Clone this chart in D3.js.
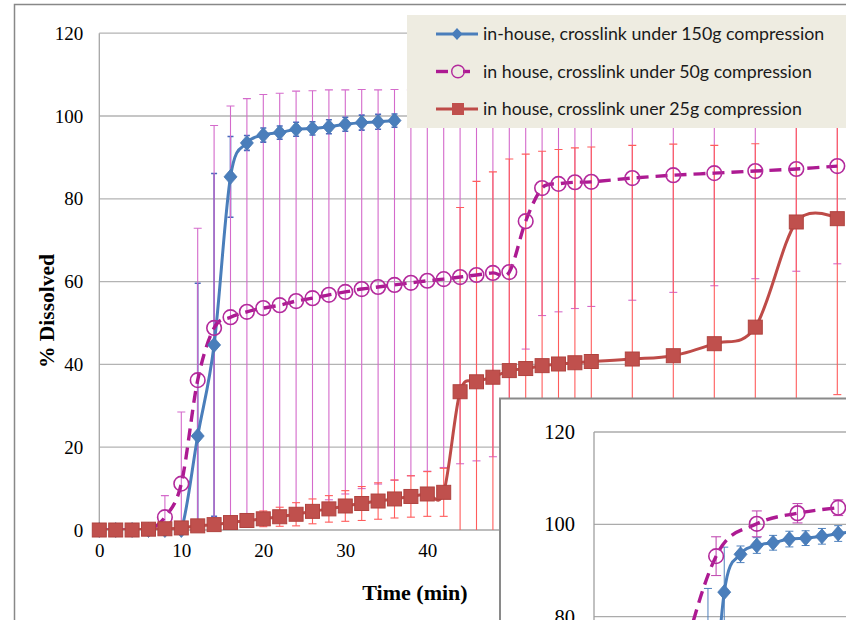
<!DOCTYPE html>
<html>
<head>
<meta charset="utf-8">
<script src="https://cdn.jsdelivr.net/npm/d3@7"></script>
<style>
  html, body { margin: 0; padding: 0; background: #fff; }
  svg { display: block; }
</style>
</head>
<body>
<svg id="chart" width="846" height="620"></svg>
<script>
// ---- data: % dissolved over time (min), mean and SD ----
const time = [0, 2, 4, 6, 8, 10, 12, 14, 16, 18, 20, 22, 24, 26, 28, 30, 32, 34, 36,
              38, 40, 42, 44, 46, 48, 50, 52, 54, 56, 58, 60, 65, 70, 75, 80, 85, 90];

// in-house, crosslink under 150g compression (sampled to 36 min)
const blueValues = [0, 0, 0, 0, 0, 0, 22.7, 44.7, 85.3, 93.5, 95.4, 96.0, 96.8, 97.0, 97.4, 98.0, 98.4, 98.6, 98.9];
const blueSD     = [0, 0, 0, 0, 0, 0, 36.9, 41.4, 9.75, 1.8, 1.7, 1.6, 1.7, 1.6, 1.7, 1.7, 1.8, 1.8, 1.6];

// in house, crosslink under 50g compression
const pinkValues = [0, 0, 0, 0, 3.1, 11.2, 36.2, 48.8, 51.4, 52.7, 53.6, 54.3, 55.3, 56.0, 56.8, 57.5, 58.2, 58.7, 59.2,
                    59.7, 60.2, 60.6, 61.1, 61.6, 62.1, 62.3, 74.6, 82.6, 83.6, 84.0, 84.1, 85.0, 85.7, 86.2, 86.7, 87.2, 87.9];
const pinkSD     = [0, 0, 0, 0, 5.2, 17.3, 36.7, 48.9, 51.0, 51.5, 51.6, 51.2, 50.7, 50.1, 49.5, 48.8, 48.2, 47.6, 47.2,
                    46.6, 46.0, 45.5, 45.1, 44.9, 44.4, 44.0, 30.9, 30.8, 30.9, 30.5, 30.1, 29.5, 28.3, 27.2, 26.0, 24.7, 23.6];

// in house, crosslink uner 25g compression
const redValues = [0, 0, 0, 0.2, 0.3, 0.5, 1.0, 1.3, 1.8, 2.3, 2.7, 3.2, 3.8, 4.5, 5.1, 5.8, 6.4, 7.0, 7.5,
                   8.1, 8.7, 9.1, 33.4, 35.8, 36.9, 38.5, 39.0, 39.7, 40.1, 40.4, 40.7, 41.3, 42.1, 45.0, 49.0, 74.4, 75.2];
const redSD     = [0, 0, 0, 0.2, 0.3, 0.5, 0.7, 1.0, 1.2, 1.5, 1.9, 2.3, 2.8, 3.0, 3.2, 3.7, 4.1, 4.4, 4.6,
                   5.0, 5.4, 5.8, 44.5, 48.4, 49.6, 51.1, 51.8, 51.8, 51.8, 51.9, 51.8, 51.6, 51.1, 47.9, 44.3, 44.0, 42.5];

// second panel: comparison series, 5-min sampling
const insetTime   = [0, 5, 10, 15, 20, 25, 30];
const insetValues = [0, 20, 64, 93.1, 100.1, 102.4, 103.6];
const insetSD     = [0, 3, 8, 4.2, 2.8, 2.1, 1.7];

const yTicks = [0, 20, 40, 60, 80, 100, 120];
const xTicks = [0, 10, 20, 30, 40, 50, 60, 70, 80, 90];
const insetYTicks = [80, 100, 120];

const legendLabels = [
  "in-house, crosslink under 150g compression",
  "in house, crosslink under 50g compression",
  "in house, crosslink uner 25g compression"
];

// ---- styles ----
const styles = {
  blue: { line: "#4a7ebb", width: 3, dash: null, err: "#4a68bd", errW: 1.6 },
  pink: { line: "#ad1a92", width: 3.4, dash: "12,7", err: "#d46acb", errW: 1.1 },
  red:  { line: "#be4b48", width: 3, dash: null, err: "#ff5c5c", errW: 1.1 }
};

const zip = (ts, vs, sds) => vs.map((v, i) => ({ t: ts[i], v: v, sd: sds[i] }));
const blueData = zip(time, blueValues, blueSD);
const pinkData = zip(time, pinkValues, pinkSD);
const redData  = zip(time, redValues, redSD);
const insetPinkData = zip(insetTime, insetValues, insetSD);

const svg = d3.select("#chart");
const serif = "'Liberation Serif', 'Times New Roman', serif";

function drawErrorBars(g, data, x, y, st, capW) {
  const eb = g.append("g").attr("stroke", st.err).attr("stroke-width", st.errW).attr("fill", "none");
  data.filter(d => d.sd > 0).forEach(d => {
    const cx = x(d.t);
    eb.append("line").attr("x1", cx).attr("x2", cx)
      .attr("y1", y(d.v + d.sd)).attr("y2", y(d.v - d.sd));
    [d.v + d.sd, d.v - d.sd].forEach(e => {
      eb.append("line").attr("x1", cx - capW).attr("x2", cx + capW)
        .attr("y1", y(e)).attr("y2", y(e));
    });
  });
}

function drawLine(g, data, x, y, st) {
  const line = d3.line().x(d => x(d.t)).y(d => y(d.v)).curve(d3.curveCardinal.tension(0));
  const p = g.append("path").datum(data).attr("d", line)
    .attr("fill", "none").attr("stroke", st.line).attr("stroke-width", st.width)
    .attr("stroke-linejoin", "round");
  if (st.dash) p.attr("stroke-dasharray", st.dash);
}

const diamondPath = "M0,-7.5L6.5,0L0,7.5L-6.5,0Z";

function drawDiamonds(g, data, x, y) {
  g.append("g").selectAll("path").data(data).join("path")
    .attr("d", diamondPath)
    .attr("transform", d => `translate(${x(d.t)},${y(d.v)})`)
    .attr("fill", "#4a7ebb").attr("stroke", "#4677b4").attr("stroke-width", 0.8);
}
function drawCircles(g, data, x, y) {
  g.append("g").selectAll("circle").data(data).join("circle")
    .attr("cx", d => x(d.t)).attr("cy", d => y(d.v)).attr("r", 7.3)
    .attr("fill", "none").attr("stroke", "#b32a9c").attr("stroke-width", 1.6);
}
function drawSquares(g, data, x, y) {
  g.append("g").selectAll("rect").data(data).join("rect")
    .attr("x", d => x(d.t) - 7).attr("y", d => y(d.v) - 7)
    .attr("width", 14).attr("height", 14)
    .attr("fill", "#c0504d").attr("stroke", "#b0433f").attr("stroke-width", 1);
}

// ---- chart frame ----
svg.append("rect").attr("x", 14.5).attr("y", 4.5).attr("width", 900).attr("height", 700)
  .attr("fill", "#fff").attr("stroke", "#888").attr("stroke-width", 1.5);

// ---- main plot ----
const x = d3.scaleLinear().domain([0, 100]).range([99.3, 919.3]);
const y = d3.scaleLinear().domain([0, 120]).range([530, 33.2]);

svg.append("defs").append("clipPath").attr("id", "mainClip")
  .append("rect").attr("x", x(0)).attr("y", y(120)).attr("width", x(100) - x(0)).attr("height", y(0) - y(120));

const grid = svg.append("g");
yTicks.forEach(v => {
  grid.append("line").attr("x1", x(0)).attr("x2", x(100)).attr("y1", y(v)).attr("y2", y(v))
    .attr("stroke", v === 0 ? "#a6a6a6" : "#b3b3b3").attr("stroke-width", 1.3);
});
grid.append("line").attr("x1", x(0)).attr("x2", x(0)).attr("y1", y(0)).attr("y2", y(120))
  .attr("stroke", "#a6a6a6").attr("stroke-width", 1.3);

// tick labels
const yAxis = svg.append("g").attr("transform", `translate(${x(0) - 16},0)`)
  .call(d3.axisLeft(y).tickValues(yTicks).tickSize(0).tickPadding(0));
yAxis.select(".domain").remove();
yAxis.selectAll("text").attr("font-family", serif).attr("font-size", 19).attr("fill", "#000");

const xAxis = svg.append("g").attr("transform", `translate(0,${y(0) + 13})`)
  .call(d3.axisBottom(x).tickValues(xTicks).tickSize(0).tickPadding(0).tickFormat(d3.format("d")));
xAxis.select(".domain").remove();
xAxis.selectAll("text").attr("font-family", serif).attr("font-size", 19).attr("fill", "#000");

// axis titles
svg.append("text").attr("x", 415).attr("y", 592).attr("dy", "0.35em")
  .attr("text-anchor", "middle").attr("font-family", serif).attr("font-weight", "bold")
  .attr("font-size", 22).text("Time (min)");
svg.append("text").attr("transform", "translate(46,311) rotate(-90)").attr("dy", "0.35em")
  .attr("text-anchor", "middle").attr("font-family", serif).attr("font-weight", "bold")
  .attr("font-size", 21.5).text("% Dissolved");

const clipped = svg.append("g").attr("clip-path", "url(#mainClip)");
drawErrorBars(clipped, blueData, x, y, styles.blue, 3);
drawErrorBars(clipped, pinkData, x, y, styles.pink, 4);
drawErrorBars(clipped, redData, x, y, styles.red, 4);
drawLine(clipped, blueData, x, y, styles.blue);
drawLine(clipped, pinkData, x, y, styles.pink);
drawLine(clipped, redData, x, y, styles.red);

const marks = svg.append("g");
drawDiamonds(marks, blueData, x, y);
drawCircles(marks, pinkData.filter(d => d.v > 0), x, y);
drawSquares(marks, redData, x, y);

// ---- legend ----
const legend = svg.append("g");
legend.append("rect").attr("x", 407).attr("y", 15).attr("width", 450).attr("height", 113)
  .attr("fill", "#eeece1");
const legY = [34, 71.5, 109];
const legKeys = ["blue", "pink", "red"];
legKeys.forEach((k, i) => {
  const st = styles[k];
  const gy = legY[i];
  if (k === "pink") {
    legend.append("line").attr("x1", 436).attr("x2", 448).attr("y1", gy).attr("y2", gy)
      .attr("stroke", st.line).attr("stroke-width", st.width);
    legend.append("line").attr("x1", 463).attr("x2", 470).attr("y1", gy).attr("y2", gy)
      .attr("stroke", st.line).attr("stroke-width", st.width);
    legend.append("circle").attr("cx", 458).attr("cy", gy).attr("r", 6.3)
      .attr("fill", "none").attr("stroke", "#b32a9c").attr("stroke-width", 1.4);
  } else {
    legend.append("line").attr("x1", 436).attr("x2", 478).attr("y1", gy).attr("y2", gy)
      .attr("stroke", st.line).attr("stroke-width", st.width);
    if (k === "blue") {
      legend.append("path").attr("d", "M0,-6L5.5,0L0,6L-5.5,0Z")
        .attr("transform", `translate(457,${gy})`).attr("fill", "#4a7ebb");
    } else {
      legend.append("rect").attr("x", 452).attr("y", gy - 6).attr("width", 12).attr("height", 12)
        .attr("fill", "#c0504d");
    }
  }
  legend.append("text").attr("x", 483).attr("y", gy).attr("dy", "0.35em")
    .attr("font-family", "Lato, 'Noto Sans', sans-serif").attr("font-size", 17.8)
    .attr("fill", "#1a1a1a").text(legendLabels[i]);
});

// ---- zoomed comparison panel (80–120 %) ----
const inset = svg.append("g");
inset.append("rect").attr("x", 500).attr("y", 398.5).attr("width", 420).attr("height", 300)
  .attr("fill", "#fff").attr("stroke", "#8a8a8a").attr("stroke-width", 2);

const xi = d3.scaleLinear().domain([0, 40]).range([594, 594 + 8.14 * 40]);
const yi = d3.scaleLinear().domain([60, 120]).range([432 + 60 * 4.615, 432]);

svg.select("defs").append("clipPath").attr("id", "insetClip")
  .append("rect").attr("x", xi(0)).attr("y", yi(120)).attr("width", 300).attr("height", 300);

insetYTicks.forEach(v => {
  inset.append("line").attr("x1", xi(0)).attr("x2", xi(40)).attr("y1", yi(v)).attr("y2", yi(v))
    .attr("stroke", "#ababab").attr("stroke-width", 1.3);
});
inset.append("line").attr("x1", xi(0)).attr("x2", xi(0)).attr("y1", yi(120)).attr("y2", yi(60))
  .attr("stroke", "#a0a0a0").attr("stroke-width", 1.3);

const yiAxis = inset.append("g").attr("transform", `translate(${xi(0) - 19},0)`)
  .call(d3.axisLeft(yi).tickValues(insetYTicks).tickSize(0).tickPadding(0));
yiAxis.select(".domain").remove();
yiAxis.selectAll("text").attr("font-family", serif).attr("font-size", 20.5).attr("fill", "#000");

const insetClipped = inset.append("g").attr("clip-path", "url(#insetClip)");
drawErrorBars(insetClipped, blueData, xi, yi, { err: "#4f81bd", errW: 1 }, 4);
drawErrorBars(insetClipped, insetPinkData, xi, yi, { err: "#c24fb3", errW: 1.1 }, 5);
drawLine(insetClipped, blueData, xi, yi, styles.blue);
drawLine(insetClipped, insetPinkData, xi, yi, styles.pink);
const insetMarks = inset.append("g").attr("clip-path", "url(#insetClip)");
drawDiamonds(insetMarks, blueData.filter(d => d.v >= 60), xi, yi);
drawCircles(insetMarks, insetPinkData.filter(d => d.v >= 60), xi, yi);
</script>
</body>
</html>
